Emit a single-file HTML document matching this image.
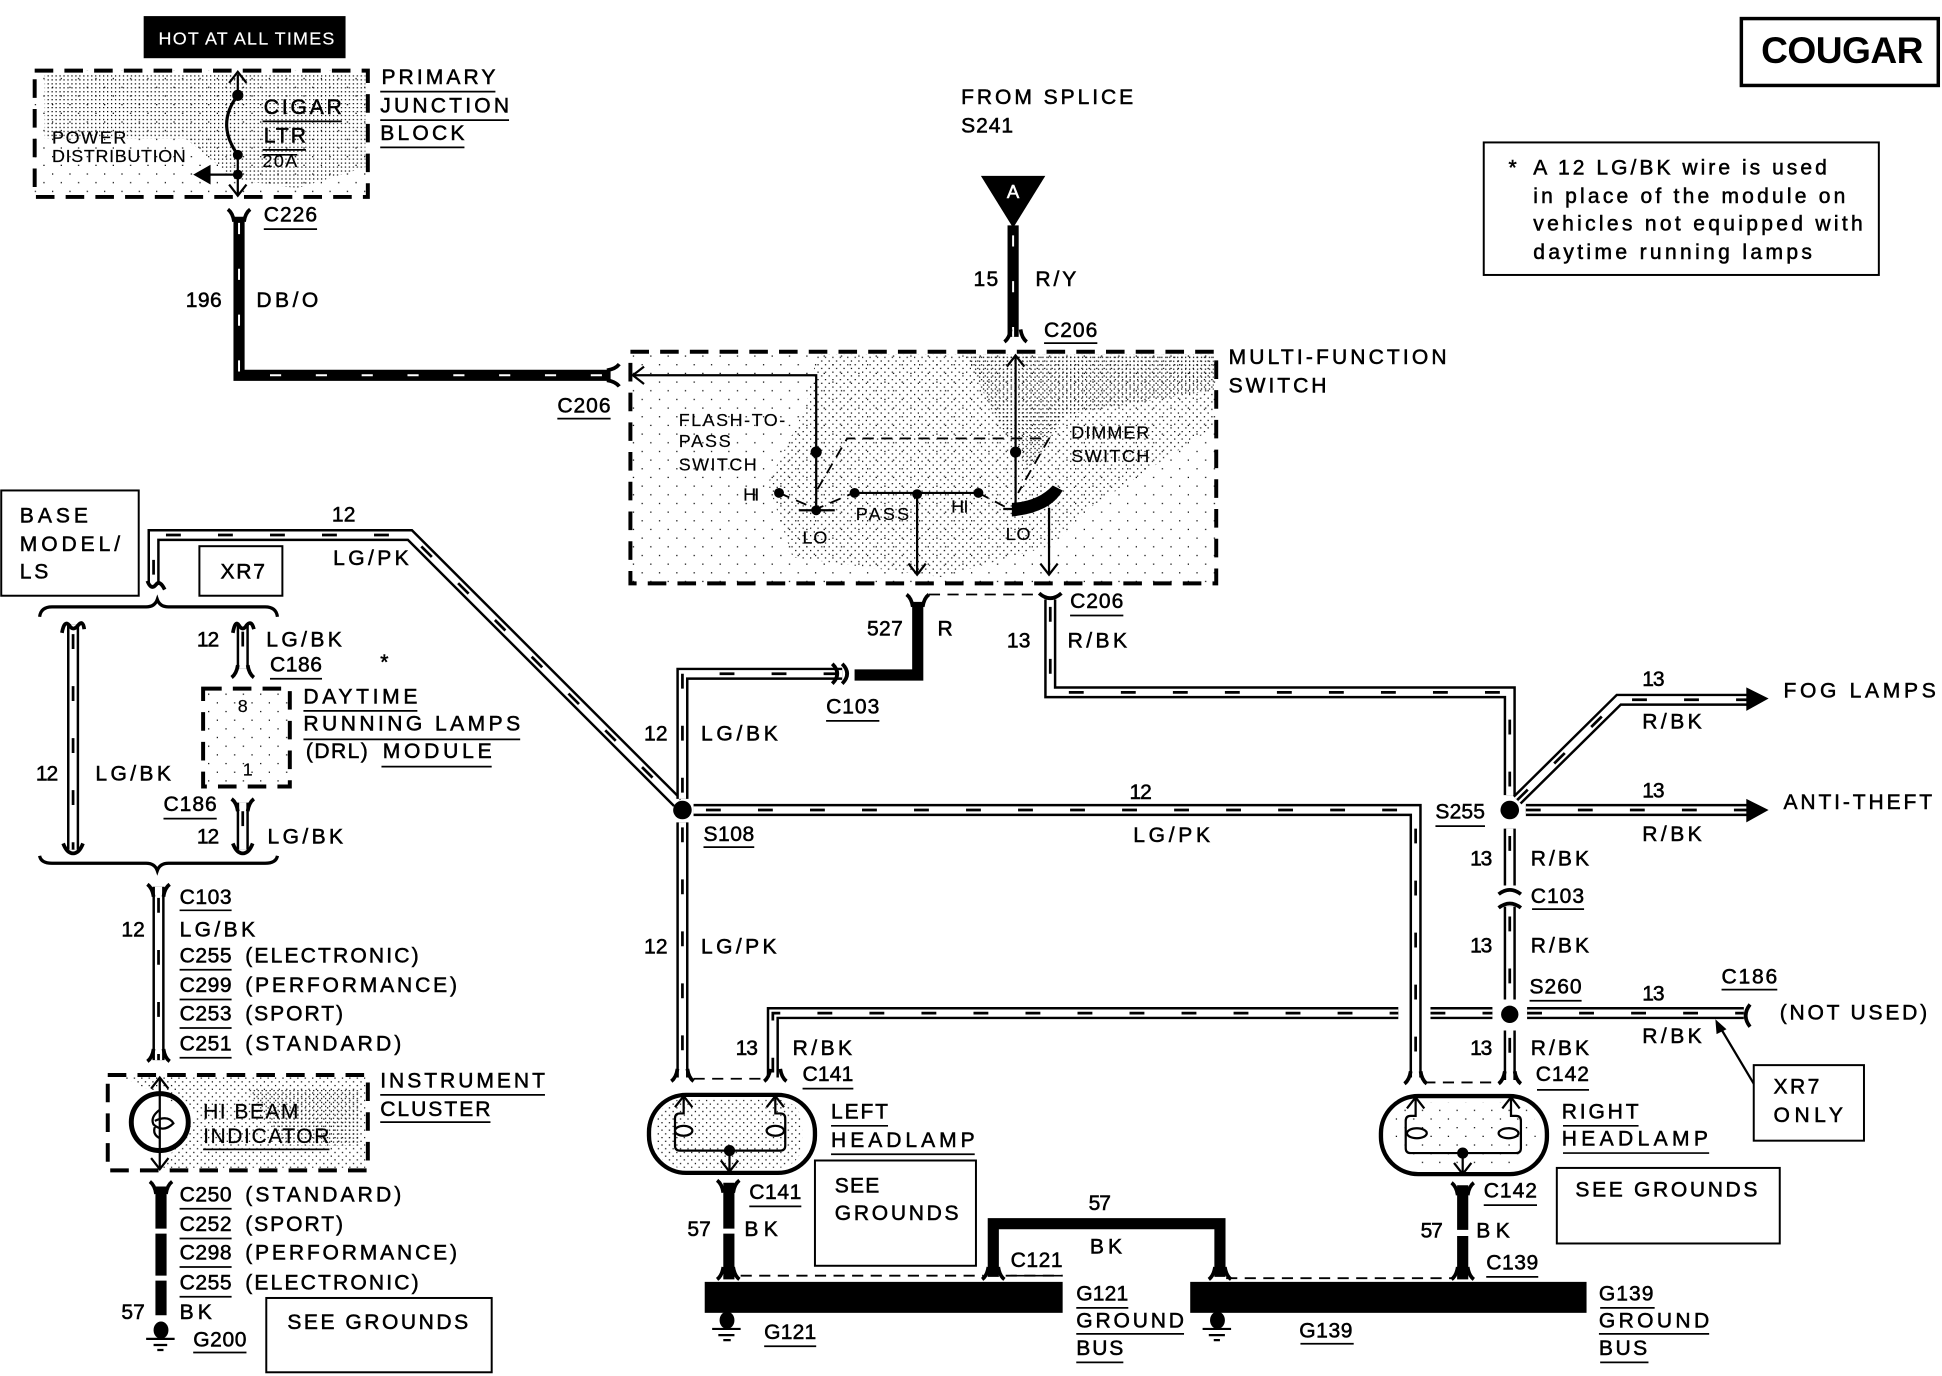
<!DOCTYPE html>
<html><head><meta charset="utf-8"><title>Cougar headlamp wiring</title>
<style>
html,body{margin:0;padding:0;background:#fff}
svg{display:block}
text{font-family:"Liberation Sans",sans-serif;font-size:17px;fill:#000;stroke:#000;stroke-width:.42}
.s{font-size:14.5px;stroke-width:.15}
.o{fill:none;stroke:#000;stroke-width:9.8}
.i{fill:none;stroke:#fff;stroke-width:5.8}
.t{fill:none;stroke:#000;stroke-width:2.2;stroke-dasharray:12 30}
.b{fill:none;stroke:#000;stroke-width:9}
.k{fill:none;stroke:#fff;stroke-width:1.6;stroke-dasharray:9 28}
.l{fill:none;stroke:#000;stroke-width:1.8}
.u{fill:none;stroke:#000;stroke-width:1.4}
.d{fill:none;stroke:#000;stroke-width:3.2;stroke-dasharray:15 9}
.dd{fill:none;stroke:#000;stroke-width:1.5;stroke-dasharray:9 6}
.f{fill:none;stroke:#000;stroke-width:3}
.bx{fill:#fff;stroke:#000;stroke-width:1.6}
</style></head><body>
<svg xmlns="http://www.w3.org/2000/svg" width="1942" height="1376" viewBox="0 0 1568 1111" preserveAspectRatio="none">
<defs>
<pattern id="p1" width="3.2" height="3.2" patternUnits="userSpaceOnUse"><rect width="1" height="1" fill="#000"/></pattern>
<pattern id="p2" width="6" height="6" patternUnits="userSpaceOnUse"><rect width="1" height="1" fill="#000"/><rect x="3" y="3" width="1" height="1" fill="#000"/></pattern>
<pattern id="p3" width="14" height="14" patternUnits="userSpaceOnUse"><rect width="1" height="1" fill="#000"/><rect x="7" y="7" width="1" height="1" fill="#000"/></pattern>
<path id="fk" d="M-9,-4 Q-5,-1 -4,6 M9,-4 Q5,-1 4,6" fill="none" stroke="#000" stroke-width="3"/>
<path id="ar" d="M-7,9 L0,0 L7,9" fill="none" stroke="#000" stroke-width="1.8"/>
</defs>

<!-- shading -->
<rect x="28" y="57" width="269" height="102" fill="url(#p3)"/>
<path d="M36,60H295V135L240,152 190,145 150,112H36Z" fill="url(#p1)"/>
<rect x="509" y="284" width="473" height="187" fill="url(#p3)"/>
<path d="M660,286H980V345L880,410 850,440 760,466 640,450 620,390 650,330Z" fill="url(#p2)"/>
<path d="M780,286H980V315L860,335 830,380 800,330Z" fill="url(#p1)"/>
<rect x="164" y="556" width="70" height="79" fill="url(#p3)"/>
<path d="M100,870H295V943H130L160,900Z" fill="url(#p2)"/>
<path d="M200,880H290V925H230Z" fill="url(#p1)"/>
<rect x="530" y="888" width="118" height="55" rx="20" fill="url(#p2)"/>
<rect x="1125" y="890" width="115" height="50" rx="20" fill="url(#p3)"/>

<!-- dashed boxes -->
<rect x="28" y="57" width="269" height="102" class="d"/>
<rect x="509" y="284" width="473" height="187" class="d"/>
<rect x="164" y="556" width="70" height="79" class="d"/>
<rect x="87" y="868" width="210" height="77" class="d"/>

<!-- solid boxes -->
<rect x="116" y="13" width="163" height="34" fill="#000"/>
<rect x="1406" y="15" width="159" height="54" fill="#fff" stroke="#000" stroke-width="2.8"/>
<rect x="1198" y="115" width="319" height="107" class="bx"/>
<rect x="1" y="396" width="111" height="85" class="bx"/>
<rect x="161" y="441" width="67" height="40" class="bx"/>
<rect x="215" y="1048" width="182" height="60" class="bx"/>
<rect x="658" y="937" width="130" height="85" class="bx"/>
<rect x="1257" y="943" width="180" height="61" class="bx"/>
<rect x="1416" y="860" width="89" height="61" class="bx"/>

<!-- black wires -->
<path class="b" d="M193,175V303H493"/><path class="k" d="M193,180V303H490"/>
<path class="b" d="M818,182V272"/><path class="k" d="M818,190V272"/>
<path class="b" d="M741,486V545H690"/>
<path class="b" d="M130,958V992M130,996V1030M130,1034V1062" stroke-width="10"/>
<path class="b" d="M588.500,955V992M588.500,996V1033"/>
<path class="b" d="M1181,957V993M1181,998V1033"/>
<path class="b" d="M802,1031V988H985V1031" stroke-width="8.500"/>
<rect x="569" y="1035" width="289" height="25" fill="#000"/>
<rect x="961" y="1035" width="320" height="25" fill="#000"/>

<!-- striped wires -->
<path class="o" d="M124,472V432H331L547,648"/><path class="i" d="M124,472V432H331L547,648"/><path class="t" d="M124,464V432H331L547,648"/>
<path class="o" d="M551,645V544H680"/><path class="i" d="M551,645V544H680"/><path class="t" d="M551,640V544H680"/>
<path class="o" d="M848,484V559H1219V642"/><path class="i" d="M848,484V559H1219V642"/><path class="t" d="M848,490V559H1219V642"/>
<path class="o" d="M1225,646L1307,565H1412"/><path class="i" d="M1225,646L1307,565H1412"/><path class="t" d="M1225,646L1307,565H1412"/>
<path class="o" d="M1232,654H1412"/><path class="i" d="M1232,654H1412"/><path class="t" d="M1232,654H1412"/>
<path class="o" d="M560,654H1143V870"/><path class="i" d="M560,654H1143V870"/><path class="t" d="M570,654H1143V870"/>
<path class="o" d="M551,664V870"/><path class="i" d="M551,664V870"/><path class="t" d="M551,668V870"/>
<path class="o" d="M59,504V686"/><path class="i" d="M59,504V686"/><path class="t" d="M59,512V686"/>
<path class="o" d="M196,503V540"/><path class="i" d="M196,503V540"/><path class="t" d="M196,510V540"/>
<path class="o" d="M196,648V686"/><path class="i" d="M196,648V686"/><path class="t" d="M196,655V686"/>
<path class="o" d="M128,716V856"/><path class="i" d="M128,716V856"/><path class="t" d="M128,725V856"/>
<path class="o" d="M1219,669V715"/><path class="i" d="M1219,669V715"/><path class="t" d="M1219,675V715"/>
<path class="o" d="M1219,732V807"/><path class="i" d="M1219,732V807"/><path class="t" d="M1219,740V807"/>
<path class="o" d="M1219,832V872"/><path class="i" d="M1219,832V872"/><path class="t" d="M1219,838V872"/>
<path class="o" d="M624,870V818H1129M1155,818H1205M1233,818H1408"/><path class="i" d="M624,870V818H1129M1155,818H1205M1233,818H1408"/><path class="t" d="M624,866V818H1129M1155,818H1205M1233,818H1408"/>

<!-- connectors -->
<use href="#fk" transform="translate(193,173)"/>
<use href="#fk" transform="translate(496,303) rotate(90)"/>
<use href="#fk" transform="translate(820,272) rotate(180)"/>
<use href="#fk" transform="translate(741,484)"/>
<path class="f" d="M839,479Q848,487 857,479"/>
<path class="f" d="M672,536Q680,544 672,552M680,536Q688,544 680,552"/>
<path class="f" d="M50,511Q52,500 56,505Q59,510 63,505Q67,500 68,508"/>
<path class="f" d="M51,681Q54,689 59,689Q64,689 67,681"/>
<path class="f" d="M188,511Q190,500 193,505Q196,510 199,505Q203,500 205,508"/>
<use href="#fk" transform="translate(196,543) rotate(180)"/>
<use href="#fk" transform="translate(196,649)"/>
<path class="f" d="M188,681Q191,689 196,689Q201,689 204,681"/>
<path class="f" d="M119,469Q122,477 126,472Q129,468 133,476"/>
<use href="#fk" transform="translate(128,718)"/>
<use href="#fk" transform="translate(128,853) rotate(180)"/>
<use href="#fk" transform="translate(130,958)"/>
<use href="#fk" transform="translate(551,869) rotate(180)"/>
<use href="#fk" transform="translate(626,869) rotate(180)"/>
<use href="#fk" transform="translate(588,957)"/>
<use href="#fk" transform="translate(588,1029) rotate(180)"/>
<use href="#fk" transform="translate(802,1029) rotate(180)"/>
<use href="#fk" transform="translate(985,1029) rotate(180)"/>
<use href="#fk" transform="translate(1181,959)"/>
<use href="#fk" transform="translate(1181,1029) rotate(180)"/>
<use href="#fk" transform="translate(1143,871) rotate(180)"/>
<use href="#fk" transform="translate(1219,871) rotate(180)"/>
<path class="f" d="M1210,722Q1219,715 1228,722M1210,733Q1219,726 1228,733"/>
<path class="f" d="M1413,811Q1406,820 1413,829"/>
<path class="dd" d="M750,480H838M560,871H618M1150,874H1210M598,1030H794M812,1030H858"/>
<path class="dd" d="M990,1032H1174"/>

<!-- junction dots and arrows -->
<circle cx="551" cy="654" r="7.500"/><circle cx="1219" cy="654" r="7.500"/><circle cx="1219" cy="819" r="7"/>
<path d="M1410,555L1428,564L1410,574Z"/><path d="M1410,645L1428,654L1410,664Z"/>
<path d="M792,142H844L818,184Z"/>

<!-- primary block internals -->
<path class="l" d="M192,60V77M192,125V157M192,141H166"/>
<path d="M156,141L170,133V149Z"/>
<path d="M192,77Q174,100 192,125" fill="none" stroke="#000" stroke-width="2.500"/>
<circle cx="192" cy="77" r="4.500"/><circle cx="192" cy="125" r="4"/><circle cx="192" cy="141" r="4"/>
<use href="#ar" transform="translate(192,58)"/><use href="#ar" transform="translate(192,158) rotate(180)"/>

<!-- multifunction internals -->
<path class="l" d="M512,303H659V412M820,288V412M689,398H790M740.500,398V464M847,410V463"/>
<use href="#ar" transform="translate(511,303) rotate(-90)"/>
<use href="#ar" transform="translate(820,287)"/>
<use href="#ar" transform="translate(740.500,464) rotate(180)"/>
<use href="#ar" transform="translate(847,464) rotate(180)"/>
<path class="dd" d="M660,395L684,354H847L822,398M629,398L659,411L689,398M790,398L815,411" stroke-width="1.700"/>
<path class="l" d="M645,412H674M810,411H820" stroke-width="2"/>
<path d="M817,406Q838,405 850,392L858,396Q848,414 817,417Z"/>
<circle cx="659" cy="365" r="4.500"/><circle cx="659" cy="412" r="4"/>
<circle cx="820" cy="365" r="4.500"/>
<circle cx="629" cy="398" r="4"/><circle cx="690" cy="398" r="4"/><circle cx="740.500" cy="399" r="4"/><circle cx="790" cy="398" r="4"/>

<!-- brackets -->
<path class="f" style="stroke-width:2.600" d="M32,498Q33,490 42,490H118Q125,490 127,484Q129,490 136,490H214Q223,490 224,498"/>
<path class="f" style="stroke-width:2.600" d="M32,691Q33,697 42,697H118Q125,697 127,703Q129,697 136,697H214Q223,697 224,691"/>

<!-- instrument cluster -->
<path class="l" d="M129,870V944"/>
<use href="#ar" transform="translate(129,870)"/><use href="#ar" transform="translate(129,944) rotate(180)"/>
<circle cx="129" cy="906" r="23" fill="none" stroke="#000" stroke-width="4"/>
<path d="M129,896Q121,902 124,908Q132,915 140,907Q136,900 125,905M125,910Q123,916 129,919" fill="none" stroke="#000" stroke-width="1.800"/>

<!-- headlamps -->
<rect x="524" y="884" width="134" height="63" rx="30" fill="none" stroke="#000" stroke-width="3.500"/>
<rect x="1115" y="885" width="134" height="63" rx="30" fill="none" stroke="#000" stroke-width="3.500"/>
<path class="l" d="M552,886V899H549Q545,899 545,903V925Q545,929 549,929H630Q634,929 634,925V903Q634,899 630,899H626V886M589,929V946"/>
<path class="l" d="M1143,886V901H1139Q1135,901 1135,905V927Q1135,931 1139,931H1224Q1228,931 1228,927V905Q1228,901 1224,901H1220V886M1181,931V948"/>
<ellipse cx="552" cy="913" rx="7" ry="4" fill="#fff" stroke="#000" stroke-width="1.800"/>
<ellipse cx="626" cy="913" rx="7" ry="4" fill="#fff" stroke="#000" stroke-width="1.800"/>
<ellipse cx="1144" cy="915" rx="8" ry="4" fill="#fff" stroke="#000" stroke-width="1.800"/>
<ellipse cx="1218" cy="915" rx="8" ry="4" fill="#fff" stroke="#000" stroke-width="1.800"/>
<circle cx="589" cy="929" r="4.500"/><circle cx="1181" cy="931" r="4.500"/>
<use href="#ar" transform="translate(552,885)"/><use href="#ar" transform="translate(626,885)"/>
<use href="#ar" transform="translate(1143,886)"/><use href="#ar" transform="translate(1220,886)"/>
<use href="#ar" transform="translate(589,946) rotate(180)"/><use href="#ar" transform="translate(1181,948) rotate(180)"/>

<!-- grounds -->
<path d="M118,1081H141M124,1086H135M127,1090H132M575,1073H598M580,1078H593M584,1082H590M971,1073H994M976,1078H989M980,1082H985" stroke="#000" stroke-width="1.800" fill="none"/>
<ellipse cx="130" cy="1074" rx="6" ry="7"/><ellipse cx="587" cy="1066" rx="6" ry="7"/><ellipse cx="983" cy="1066" rx="6" ry="7"/>

<!-- XR7 pointer -->
<path class="l" d="M1416,875L1388,828"/><path d="M1385,823L1394,831L1386,835Z"/>

<!-- underlines -->
<path class="u" d="M307,74H400M307,97H411M307,119H375M212,98H276M212,121H247M212,125H240M213,185H256M450,338H493M843,277H886M667,582H710M864,497H907M218,548H260M245,574H337M245,597H420M308,619H397M132,661H175M145,735H187M145,783H187M145,807H187M145,830H187M145,854H187M164,928H266M307,884H440M307,906H396M145,976H187M145,1000H187M145,1023H187M145,1047H187M156,1092H199M568,684H609M1159,667H1199M648,879H689M671,909H717M671,932H787M605,974H647M816,1030H858M869,1056H911M869,1077H956M869,1100H907M617,1087H659M1237,734H1279M1235,808H1277M1241,880H1283M1262,909H1323M1262,931H1380M1198,973H1241M1200,1031H1242M1292,1056H1336M1291,1077H1380M1292,1100H1331M1050,1085H1093M1390,799H1435"/>

<!-- text -->
<text x="128" y="36" textLength="142" class="s" style="fill:#fff;stroke:#fff">HOT AT ALL TIMES</text>
<text x="308" y="68" textLength="92">PRIMARY</text>
<text x="307" y="91" textLength="104">JUNCTION</text>
<text x="307" y="113" textLength="68">BLOCK</text>
<text x="213" y="92" textLength="63">CIGAR</text>
<text x="213" y="115" textLength="34">LTR</text>
<text x="212" y="135" textLength="28" class="s">20A</text>
<text x="42" y="116" textLength="60" class="s">POWER</text>
<text x="42" y="131" textLength="108" class="s">DISTRIBUTION</text>
<text x="213" y="179" textLength="43">C226</text>
<text x="150" y="248" textLength="29">196</text>
<text x="207" y="248" textLength="50">DB/O</text>
<text x="450" y="333" textLength="43">C206</text>
<text x="776" y="84" textLength="139">FROM SPLICE</text>
<text x="776" y="107" textLength="42">S241</text>
<text x="818" y="160" text-anchor="middle" style="fill:#fff;stroke:#fff;font-size:15px">A</text>
<text x="786" y="231" textLength="20">15</text>
<text x="836" y="231" textLength="33">R/Y</text>
<text x="843" y="272" textLength="43">C206</text>
<text x="1422" y="51" textLength="131" style="font-size:30px;font-weight:bold;stroke-width:0">COUGAR</text>
<text x="1218" y="141">*</text>
<text x="1238" y="141" textLength="237">A 12 LG/BK wire is used</text>
<text x="1238" y="164" textLength="252">in place of the module on</text>
<text x="1238" y="186" textLength="266">vehicles not equipped with</text>
<text x="1238" y="209" textLength="225">daytime running lamps</text>
<text x="992" y="294" textLength="176">MULTI-FUNCTION</text>
<text x="992" y="317" textLength="79">SWITCH</text>
<text x="548" y="344" textLength="86" class="s">FLASH-TO-</text>
<text x="548" y="361" textLength="42" class="s">PASS</text>
<text x="548" y="380" textLength="63" class="s">SWITCH</text>
<text x="865" y="354" textLength="63" class="s">DIMMER</text>
<text x="865" y="373" textLength="63" class="s">SWITCH</text>
<text x="600" y="404" textLength="13" class="s">HI</text>
<text x="648" y="439" textLength="20" class="s">LO</text>
<text x="691" y="420" textLength="43" class="s">PASS</text>
<text x="768" y="414" textLength="14" class="s">HI</text>
<text x="812" y="436" textLength="20" class="s">LO</text>
<text x="700" y="513" textLength="29">527</text>
<text x="757" y="513">R</text>
<text x="864" y="491" textLength="43">C206</text>
<text x="813" y="523" textLength="19">13</text>
<text x="862" y="523" textLength="48">R/BK</text>
<text x="667" y="576" textLength="43">C103</text>
<text x="520" y="598" textLength="19">12</text>
<text x="566" y="598" textLength="62">LG/BK</text>
<text x="16" y="422" textLength="55">BASE</text>
<text x="16" y="445" textLength="81">MODEL/</text>
<text x="16" y="467" textLength="23">LS</text>
<text x="178" y="467" textLength="36">XR7</text>
<text x="268" y="421" textLength="19">12</text>
<text x="269" y="456" textLength="61">LG/PK</text>
<text x="159" y="522" textLength="18">12</text>
<text x="215" y="522" textLength="61">LG/BK</text>
<text x="218" y="542" textLength="42">C186</text>
<text x="307" y="540">*</text>
<text x="245" y="568" textLength="92">DAYTIME</text>
<text x="245" y="590" textLength="175">RUNNING LAMPS</text>
<text x="247" y="612" textLength="50">(DRL)</text>
<text x="309" y="612" textLength="88">MODULE</text>
<text x="192" y="575" class="s">8</text>
<text x="196" y="626" class="s">1</text>
<text x="29" y="630" textLength="18">12</text>
<text x="77" y="630" textLength="61">LG/BK</text>
<text x="132" y="655" textLength="43">C186</text>
<text x="159" y="681" textLength="18">12</text>
<text x="216" y="681" textLength="61">LG/BK</text>
<text x="145" y="730" textLength="42">C103</text>
<text x="98" y="756" textLength="19">12</text>
<text x="145" y="756" textLength="61">LG/BK</text>
<text x="145" y="777" textLength="42">C255</text><text x="198" y="777" textLength="140">(ELECTRONIC)</text>
<text x="145" y="801" textLength="42">C299</text><text x="198" y="801" textLength="171">(PERFORMANCE)</text>
<text x="145" y="824" textLength="42">C253</text><text x="198" y="824" textLength="79">(SPORT)</text>
<text x="145" y="848" textLength="42">C251</text><text x="198" y="848" textLength="126">(STANDARD)</text>
<text x="164" y="903" textLength="77" style="stroke-width:.15">HI BEAM</text>
<text x="164" y="923" textLength="102" style="stroke-width:.15">INDICATOR</text>
<text x="307" y="878" textLength="133">INSTRUMENT</text>
<text x="307" y="901" textLength="89">CLUSTER</text>
<text x="145" y="970" textLength="42">C250</text><text x="198" y="970" textLength="126">(STANDARD)</text>
<text x="145" y="994" textLength="42">C252</text><text x="198" y="994" textLength="79">(SPORT)</text>
<text x="145" y="1017" textLength="42">C298</text><text x="198" y="1017" textLength="171">(PERFORMANCE)</text>
<text x="145" y="1041" textLength="42">C255</text><text x="198" y="1041" textLength="140">(ELECTRONIC)</text>
<text x="98" y="1065" textLength="19">57</text>
<text x="145" y="1065" textLength="26">BK</text>
<text x="156" y="1087" textLength="43">G200</text>
<text x="232" y="1073" textLength="146">SEE GROUNDS</text>
<text x="568" y="679" textLength="41">S108</text>
<text x="520" y="770" textLength="19">12</text>
<text x="566" y="770" textLength="61">LG/PK</text>
<text x="912" y="645" textLength="18">12</text>
<text x="915" y="680" textLength="62">LG/PK</text>
<text x="594" y="852" textLength="18">13</text>
<text x="640" y="852" textLength="48">R/BK</text>
<text x="648" y="873" textLength="41">C141</text>
<text x="671" y="903" textLength="46">LEFT</text>
<text x="671" y="926" textLength="116">HEADLAMP</text>
<text x="674" y="963" textLength="36">SEE</text>
<text x="674" y="985" textLength="100">GROUNDS</text>
<text x="605" y="968" textLength="42">C141</text>
<text x="555" y="998" textLength="19">57</text>
<text x="601" y="998" textLength="27">BK</text>
<text x="816" y="1023" textLength="42">C121</text>
<text x="879" y="977" textLength="18">57</text>
<text x="880" y="1012" textLength="26">BK</text>
<text x="869" y="1050" textLength="42">G121</text>
<text x="869" y="1072" textLength="87">GROUND</text>
<text x="869" y="1094" textLength="38">BUS</text>
<text x="617" y="1081" textLength="42">G121</text>
<text x="1326" y="554" textLength="18">13</text>
<text x="1326" y="588" textLength="48">R/BK</text>
<text x="1440" y="563" textLength="123">FOG LAMPS</text>
<text x="1326" y="644" textLength="18">13</text>
<text x="1326" y="679" textLength="48">R/BK</text>
<text x="1440" y="653" textLength="120">ANTI-THEFT</text>
<text x="1159" y="661" textLength="40">S255</text>
<text x="1187" y="699" textLength="18">13</text>
<text x="1236" y="699" textLength="47">R/BK</text>
<text x="1236" y="729" textLength="43">C103</text>
<text x="1187" y="769" textLength="18">13</text>
<text x="1236" y="769" textLength="47">R/BK</text>
<text x="1235" y="802" textLength="42">S260</text>
<text x="1326" y="808" textLength="18">13</text>
<text x="1326" y="842" textLength="48">R/BK</text>
<text x="1390" y="794" textLength="45">C186</text>
<text x="1437" y="823" textLength="119">(NOT USED)</text>
<text x="1187" y="852" textLength="18">13</text>
<text x="1236" y="852" textLength="47">R/BK</text>
<text x="1240" y="873" textLength="43">C142</text>
<text x="1432" y="883" textLength="37">XR7</text>
<text x="1432" y="906" textLength="56">ONLY</text>
<text x="1261" y="903" textLength="62">RIGHT</text>
<text x="1261" y="925" textLength="118">HEADLAMP</text>
<text x="1272" y="966" textLength="147">SEE GROUNDS</text>
<text x="1198" y="967" textLength="43">C142</text>
<text x="1147" y="999" textLength="18">57</text>
<text x="1192" y="999" textLength="27">BK</text>
<text x="1200" y="1025" textLength="42">C139</text>
<text x="1291" y="1050" textLength="44">G139</text>
<text x="1291" y="1072" textLength="89">GROUND</text>
<text x="1291" y="1094" textLength="39">BUS</text>
<text x="1049" y="1080" textLength="43">G139</text>
</svg>
</body></html>
